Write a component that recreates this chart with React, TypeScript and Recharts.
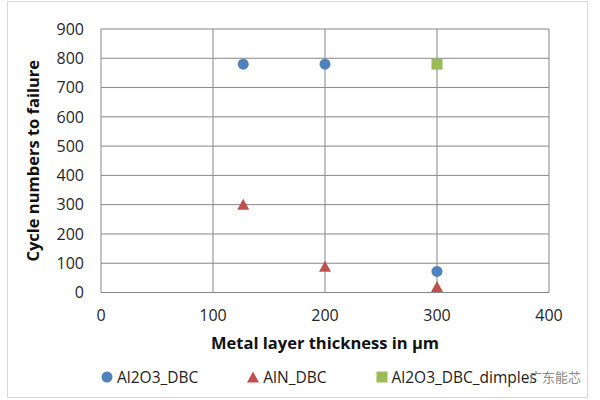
import React from 'react';
import { ScatterChart, Scatter, XAxis, YAxis, CartesianGrid, Legend } from 'recharts';

const al2o3X = [127, 200, 300];
const al2o3Y = [780, 780, 72];
const alnX = [127, 200, 300];
const alnY = [300, 88, 19];
const dimplesX = [300];
const dimplesY = [780];
const xTicks = [0, 100, 200, 300, 400];
const yTicks = [0, 100, 200, 300, 400, 500, 600, 700, 800, 900];

const BLUE = '#4F81BD';
const RED = '#C0504D';
const GREEN = '#9BBB59';
const FONT = '"Open Sans", sans-serif';

const toPoints = (xs: number[], ys: number[]) => xs.map((x, i) => ({ x, y: ys[i] }));
const al2o3Data = toPoints(al2o3X, al2o3Y);
const alnData = toPoints(alnX, alnY);
const dimplesData = toPoints(dimplesX, dimplesY);

const CircleShape = (p: any) => <circle cx={p.cx} cy={p.cy} r={5.5} fill={BLUE} />;
const TriShape = (p: any) => (
  <polygon points={`${p.cx},${p.cy - 6} ${p.cx + 6},${p.cy + 5} ${p.cx - 6},${p.cy + 5}`} fill={RED} />
);
const SquareShape = (p: any) => <rect x={p.cx - 5.5} y={p.cy - 5.5} width={11} height={11} fill={GREEN} />;

const legendItems = [
  { name: 'Al2O3_DBC', kind: 'circle', color: BLUE },
  { name: 'AlN_DBC', kind: 'triangle', color: RED },
  { name: 'Al2O3_DBC_dimples', kind: 'square', color: GREEN },
];

const LegendIcon = ({ kind, color }: { kind: string; color: string }) => (
  <svg width={12} height={12} style={{ marginRight: 4 }}>
    {kind === 'circle' && <circle cx={6} cy={6} r={5.5} fill={color} />}
    {kind === 'triangle' && <polygon points="6,0.5 12,11.5 0,11.5" fill={color} />}
    {kind === 'square' && <rect x={0.5} y={0.5} width={11} height={11} fill={color} />}
  </svg>
);

const LegendContent = () => (
  <div style={{ position: 'relative', width: 600, height: 24 }}>
    <div style={{ position: 'absolute', left: 101, top: 0, display: 'flex', alignItems: 'center', gap: 49, fontFamily: FONT, fontSize: 15.5, color: '#222' }}>
      {legendItems.map((it) => (
        <div key={it.name} style={{ display: 'flex', alignItems: 'center' }}>
          <LegendIcon kind={it.kind} color={it.color} />
          <span>{it.name}</span>
        </div>
      ))}
    </div>
    <div style={{ position: 'absolute', left: 529, top: 1, fontFamily: '"Noto Sans CJK SC", sans-serif', fontSize: 13, color: '#8a8a8a' }}>广东能芯</div>
  </div>
);

export default function App() {
  return (
    <div style={{ position: 'absolute', left: 0, top: 0, width: 600, height: 400, background: '#fff' }}>
      <div style={{ position: 'absolute', left: 7, top: 1, width: 579, height: 395, border: '1px solid #d9d9d9' }} />
      <ScatterChart width={600} height={400} margin={{ top: 29, right: 51, bottom: 10, left: 0 }}>
        <CartesianGrid stroke="#878787" strokeWidth={1} />
        <XAxis
          type="number"
          dataKey="x"
          domain={[0, 400]}
          ticks={xTicks}
          axisLine={false}
          tickLine={false}
          tickSize={0}
          tickMargin={17}
          height={73.5}
          tick={{ fill: '#262626', fontSize: 16, fontFamily: FONT }}
          label={{ value: 'Metal layer thickness in µm', position: 'center', dy: 14, style: { fontFamily: FONT, fontSize: 16.5, fontWeight: 700, fill: '#111' } }}
        />
        <YAxis
          type="number"
          dataKey="y"
          domain={[0, 900]}
          ticks={yTicks}
          axisLine={false}
          tickLine={false}
          tickSize={0}
          tickMargin={17}
          width={101}
          tick={{ fill: '#262626', fontSize: 16, fontFamily: FONT }}
          label={{ value: 'Cycle numbers to failure', angle: -90, position: 'center', dx: -17, style: { fontFamily: FONT, fontSize: 16.5, fontWeight: 700, fill: '#111', textAnchor: 'middle' } }}
        />
        <Scatter name="Al2O3_DBC" data={al2o3Data} fill={BLUE} shape={CircleShape} isAnimationActive={false} />
        <Scatter name="AlN_DBC" data={alnData} fill={RED} shape={TriShape} isAnimationActive={false} />
        <Scatter name="Al2O3_DBC_dimples" data={dimplesData} fill={GREEN} shape={SquareShape} isAnimationActive={false} />
        <Legend verticalAlign="bottom" height={24} content={LegendContent} wrapperStyle={{ left: 0, width: 600 }} />
      </ScatterChart>
    </div>
  );
}
